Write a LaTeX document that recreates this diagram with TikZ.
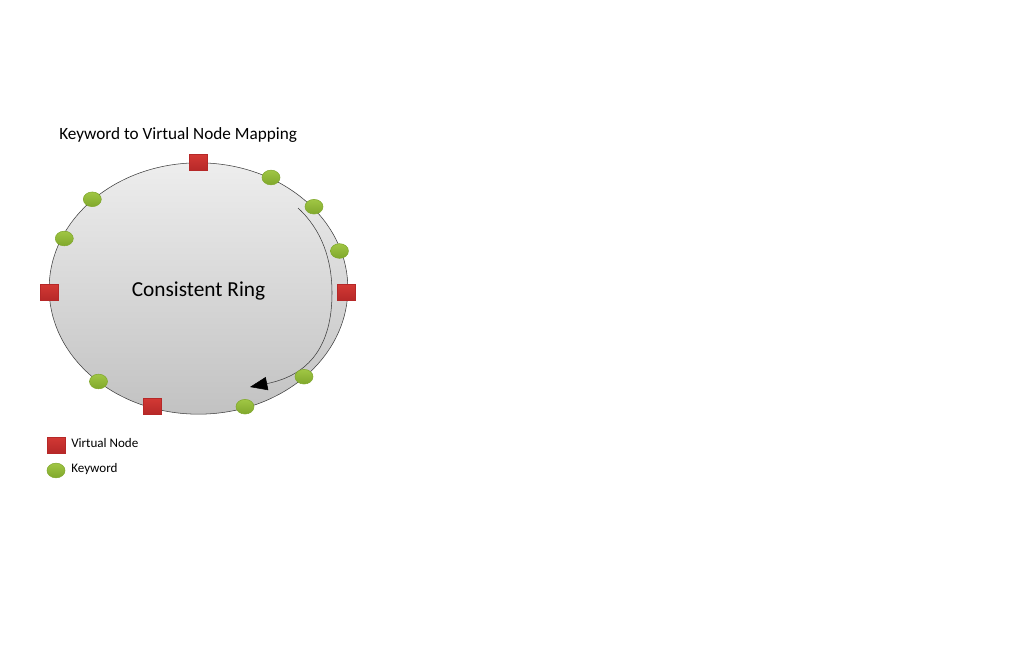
\documentclass[tikz,border=0pt]{standalone}
\usepackage{fontspec}
\setmainfont{Carlito}
\definecolor{vnodered}{RGB}{210, 56, 52}
\definecolor{vnodedark}{RGB}{182, 40, 40}
\definecolor{keygreen}{RGB}{160, 198, 68}
\definecolor{keydark}{RGB}{128, 168, 44}
\definecolor{ringedge}{RGB}{60, 60, 60}
\usetikzlibrary{shapes.geometric, arrows.meta, positioning}

\tikzset{
  vnode/.style={draw=vnodedark, thin, top color=vnodered, bottom color=vnodedark, minimum width=13.5pt, minimum height=12pt, inner sep=0pt},
  keyword/.style={ellipse, draw=keydark, thin, top color=keygreen, bottom color=keydark, minimum width=13.5pt, minimum height=11pt, inner sep=0pt}
}

\begin{document}
\begin{tikzpicture}[x=0.75pt, y=-0.75pt]
  \useasboundingbox[fill=white] (0,0) rectangle (1024,667);

  % Title
  \node[font=\fontsize{12.9}{15}\selectfont, anchor=west, inner sep=0pt] (title) at (59, 135) {Keyword to Virtual Node Mapping};

  % Ring
  \node[ellipse, draw=ringedge, thin, top color=white!93!black, bottom color=white!76!black, minimum width=224pt, minimum height=188.5pt, inner sep=0pt] (ring) at (198.5, 288.5) {};
  \node[font=\fontsize{16}{19}\selectfont, inner sep=0pt] (ringlabel) at (198.5, 290.5) {Consistent Ring};

  % Direction of the ring
  \coordinate (arcstart) at (298, 208);
  \coordinate (arcend) at (250, 387);
  \draw[ringedge, thin, -{Triangle[length=13pt, width=10pt, color=black, fill=black]}] (arcstart) .. controls (322, 230) and (332, 260) .. (332, 293) .. controls (332, 345) and (310, 375) .. (arcend);

  % Virtual nodes
  \node[vnode] (vtop) at (198.5, 162.7) {};
  \node[vnode] (vright) at (346, 292.5) {};
  \node[vnode] (vbottom) at (152, 406.5) {};
  \node[vnode] (vleft) at (49.5, 292.5) {};

  % Keywords
  \node[keyword] (k1) at (271, 177.5) {};
  \node[keyword] (k2) at (314, 206.7) {};
  \node[keyword] (k3) at (339.5, 251) {};
  \node[keyword] (k4) at (304, 376.7) {};
  \node[keyword] (k5) at (245, 406.7) {};
  \node[keyword] (k6) at (98.5, 381.5) {};
  \node[keyword] (k7) at (64.3, 238.5) {};
  \node[keyword] (k8) at (92.3, 199.3) {};

  % Legend
  \node[vnode] (legvnode) at (56.5, 445) {};
  \node[font=\fontsize{9.8}{12}\selectfont, anchor=west, inner sep=0pt] (legvtext) at (71, 443) {Virtual Node};
  \node[keyword] (legkey) at (56, 470.5) {};
  \node[font=\fontsize{9.8}{12}\selectfont, anchor=west, inner sep=0pt] (legktext) at (71, 469.5) {Keyword};
\end{tikzpicture}
\end{document}
